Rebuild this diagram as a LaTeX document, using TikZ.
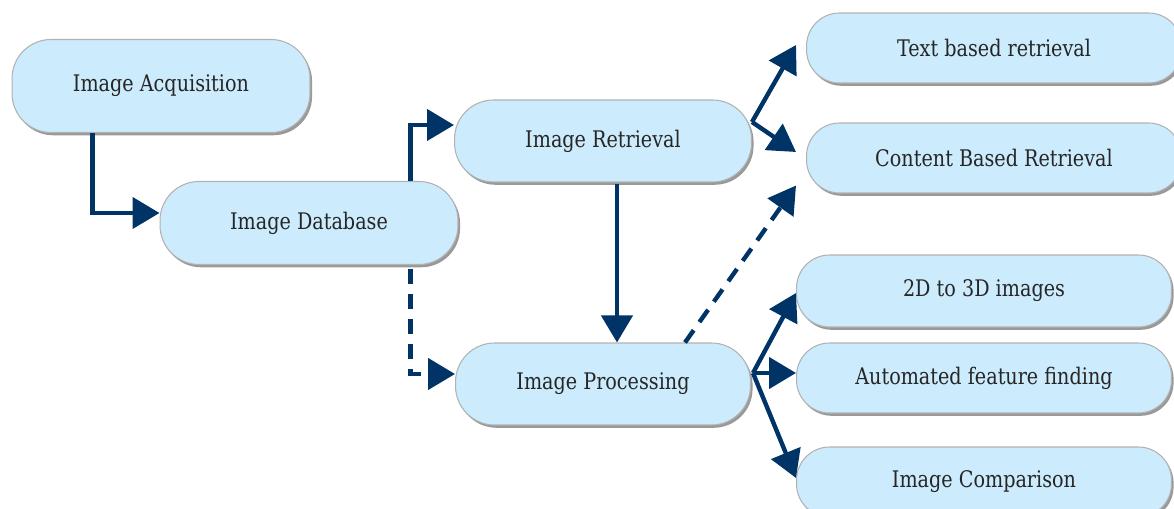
\documentclass[tikz,border=0pt]{standalone}
\usepackage{fontspec}
\setmainfont{DejaVu Serif}[FakeStretch=0.84]
\usetikzlibrary{arrows.meta,calc,shadows}
\definecolor{boxfill}{RGB}{204,235,252}
\definecolor{navy}{RGB}{0,51,102}
\begin{document}
\begin{tikzpicture}[x=0.02cm,y=-0.02cm,
  box/.style={draw=gray!60, line width=0.6pt, fill=boxfill, inner sep=0pt,
    rounded corners=0.78cm, text=black!85, font=\fontsize{13}{15}\selectfont,
    drop shadow={shadow xshift=1.2pt, shadow yshift=-1.6pt, fill=gray!80, opacity=1}},
  rbox/.style={box, rounded corners=0.66cm, minimum width=7.5cm},
  arr/.style={navy, line width=2.5pt, -{Triangle[length=0.54cm,width=0.62cm]}},
  dsh/.style={arr, dash pattern=on 0.3cm off 0.2cm}]
\useasboundingbox (0,0) rectangle (1174,509);
\clip (0,0) rectangle (1174,509);
\node[box, minimum width=5.96cm, minimum height=1.86cm] (acq) at (161,86) {Image Acquisition};
\node[box, minimum width=5.96cm, minimum height=1.66cm] (db) at (309,223) {Image Database};
\node[box, minimum width=5.94cm, minimum height=1.64cm] (ret) at (603,141) {Image Retrieval};
\node[box, minimum width=5.9cm, minimum height=1.64cm] (proc) at (603,384) {Image Processing};
\node[rbox, minimum height=1.4cm] (tbr) at (994,48) {Text based retrieval};
\node[rbox, minimum height=1.4cm] (cbr) at (994,158) {Content Based Retrieval};
\node[rbox, minimum height=1.44cm] (td) at (984,291) {2D to 3D images};
\node[rbox, minimum height=1.4cm] (auto) at (984,378) {Automated feature finding};
\node[rbox, minimum height=1.4cm] (cmp) at (984,482) {Image Comparison};
\draw[arr] ($(acq.south west)+(81,0)$) |- ($(db.west)+(0,-10)$);
\draw[arr] ($(db.north west)+(251,0)$) |- ($(ret.west)+(0,-16)$);
\draw[dsh] ($(db.south west)+(251,4)$) |- ($(proc.west)+(0,-10)$);
\draw[arr] ($(ret.south)+(14,1)$) -- ($(proc.north)+(14,0)$);
\draw[dsh] ($(proc.north)+(82,0)$) -- ($(cbr.south west)+(-10,-8)$);
\coordinate (rb) at ($(ret.east)+(0,-19)$);
\draw[arr] (rb) -- ($(tbr.west)+(-10,-3)$);
\draw[arr] (rb) -- ($(cbr.west)+(-10,-6)$);
\coordinate (pb) at ($(proc.east)+(2,-11)$);
\draw[arr] (pb) -- ($(td.west)+(0,2)$);
\draw[arr] (pb) -- ($(auto.west)+(0,-5)$);
\draw[arr] (pb) -- ($(cmp.west)+(0,-4)$);
\end{tikzpicture}
\end{document}
